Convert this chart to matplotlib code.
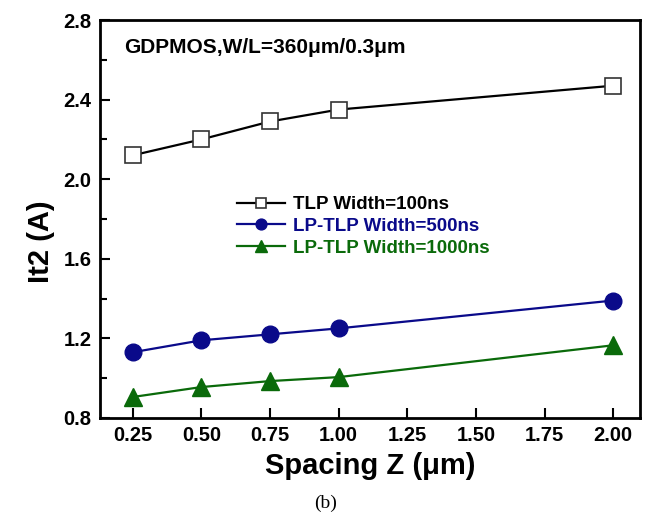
import matplotlib
matplotlib.use('Agg')
import matplotlib.pyplot as plt
from matplotlib.ticker import MultipleLocator

spacing = [0.25, 0.50, 0.75, 1.00, 2.00]
tlp_100 = [2.12, 2.20, 2.29, 2.35, 2.47]
lptlp_500 = [1.13, 1.19, 1.22, 1.25, 1.39]
lptlp_1000 = [0.905, 0.955, 0.985, 1.005, 1.165]
labels = ['TLP Width=100ns', 'LP-TLP Width=500ns', 'LP-TLP Width=1000ns']

plt.rcParams['font.family'] = ['Liberation Sans', 'DejaVu Sans']
plt.rcParams['font.weight'] = 'bold'

fig = plt.figure(figsize=(6.48, 5.14), dpi=100)
ax = fig.add_axes([0.154, 0.187, 0.834, 0.774])

blue = '#0a0a8a'
green = '#0a6a0a'

ax.plot(spacing, tlp_100, color='black', lw=1.6, marker='s', ms=11,
        mfc='white', mec='#333333', mew=1.2, label=labels[0])
ax.plot(spacing, lptlp_500, color=blue, lw=1.6, marker='o', ms=12,
        mfc=blue, mec=blue, label=labels[1])
ax.plot(spacing, lptlp_1000, color=green, lw=1.6, marker='^', ms=13,
        mfc=green, mec=green, label=labels[2])

ax.set_xlim(0.13, 2.098)
ax.set_ylim(0.8, 2.8)
ax.set_xticks([0.25, 0.50, 0.75, 1.00, 1.25, 1.50, 1.75, 2.00])
ax.set_yticks([0.8, 1.2, 1.6, 2.0, 2.4, 2.8])
ax.set_xticklabels(['0.25', '0.50', '0.75', '1.00', '1.25', '1.50', '1.75', '2.00'])
ax.set_yticklabels(['0.8', '1.2', '1.6', '2.0', '2.4', '2.8'])
ax.yaxis.set_minor_locator(MultipleLocator(0.2))
ax.tick_params(which='major', direction='in', length=7, width=1.5, labelsize=14.5, pad=6)
ax.tick_params(which='minor', direction='in', length=5, width=1.5)
for s in ax.spines.values():
    s.set_linewidth(2)

ax.set_xlabel('Spacing Z (\u03bcm)', fontsize=21, fontweight='bold', labelpad=5)
ax.set_ylabel('It2 (A)', fontsize=21, fontweight='bold')
ax.yaxis.set_label_coords(-0.082, 0.442)

ax.text(0.045, 0.93, 'GDPMOS,W/L=360\u03bcm/0.3\u03bcm', transform=ax.transAxes,
        fontsize=15, fontweight='bold', va='center')

leg = ax.legend(loc='upper left', bbox_to_anchor=(0.222, 0.60), frameon=False,
                fontsize=13.5, markerscale=0.65, handlelength=2.6,
                handletextpad=0.39, labelspacing=0.25)
for t, c in zip(leg.get_texts(), ['black', blue, green]):
    t.set_color(c)

fig.text(0.503, 0.021, '(b)', ha='center', va='center', fontsize=14,
         fontweight='normal', family='Liberation Serif')

fig.savefig('out.png', dpi=100)
